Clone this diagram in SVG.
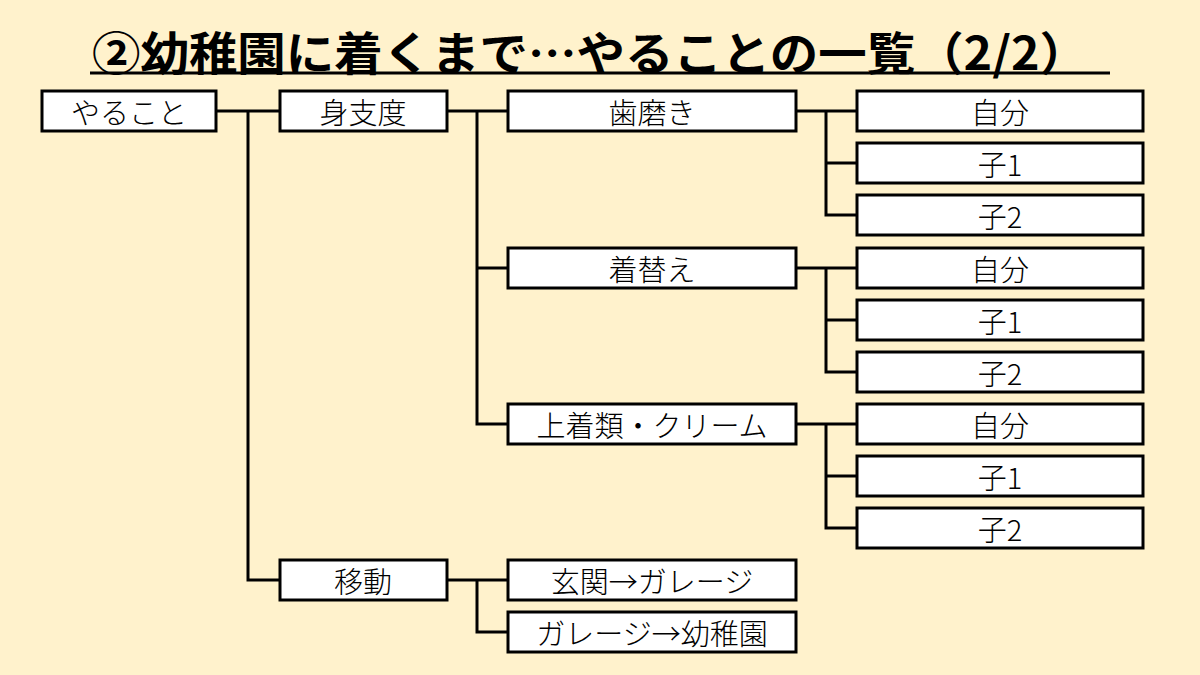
<svg xmlns="http://www.w3.org/2000/svg" width="1200" height="675" viewBox="0 0 1200 675">
<style>
.bg{fill:#fff2cc}
.box{fill:#ffffff;stroke:#000;stroke-width:3}
.lbl{font-family:"Noto Sans CJK JP","Noto Sans",sans-serif;font-size:29px;font-weight:300;fill:#000;text-anchor:middle;dominant-baseline:central}
.title{font-family:"Noto Sans CJK JP","Noto Sans",sans-serif;font-size:46px;font-weight:bold;fill:#000;text-anchor:middle}
.con{fill:none;stroke:#000;stroke-width:3}
</style>
<rect class="bg" x="0" y="0" width="1200" height="675"/>
<g id="title">
<text class="title" x="590" y="70" textLength="996" lengthAdjust="spacingAndGlyphs">②幼稚園に着くまで…やることの一覧（2/2）</text>
<line x1="90" y1="73" x2="1110" y2="73" stroke="#000" stroke-width="3"/>
</g>
<g id="connectors">
<path class="con" d="M216 111H280M248 111V580H280"/>
<path class="con" d="M447 111H508M477 111V424H508M477 268H508"/>
<path class="con" d="M447 580H508M477 580V632H508"/>
<path class="con" d="M796 111H857M826 111V215H857M826 163H857"/>
<path class="con" d="M796 268H857M826 268V372H857M826 320H857"/>
<path class="con" d="M796 424H857M826 424V528H857M826 476H857"/>
</g>
<g id="n-yarukoto"><rect class="box" x="42" y="91" width="174" height="40"/><text class="lbl" x="129" y="111">やること</text></g>
<g id="n-mijitaku"><rect class="box" x="280" y="91" width="167" height="40"/><text class="lbl" x="363" y="111">身支度</text></g>
<g id="n-hamigaki"><rect class="box" x="508" y="91" width="288" height="40"/><text class="lbl" x="652" y="111">歯磨き</text></g>
<g id="n-h-jibun"><rect class="box" x="857" y="91" width="286" height="40"/><text class="lbl" x="1000" y="111">自分</text></g>
<g id="n-h-ko1"><rect class="box" x="857" y="143" width="286" height="40"/><text class="lbl" x="1000" y="163">子1</text></g>
<g id="n-h-ko2"><rect class="box" x="857" y="195" width="286" height="40"/><text class="lbl" x="1000" y="215">子2</text></g>
<g id="n-kigae"><rect class="box" x="508" y="248" width="288" height="40"/><text class="lbl" x="652" y="268">着替え</text></g>
<g id="n-k-jibun"><rect class="box" x="857" y="248" width="286" height="40"/><text class="lbl" x="1000" y="268">自分</text></g>
<g id="n-k-ko1"><rect class="box" x="857" y="300" width="286" height="40"/><text class="lbl" x="1000" y="320">子1</text></g>
<g id="n-k-ko2"><rect class="box" x="857" y="352" width="286" height="40"/><text class="lbl" x="1000" y="372">子2</text></g>
<g id="n-uwagi"><rect class="box" x="508" y="404" width="288" height="40"/><text class="lbl" x="652" y="424">上着類・クリーム</text></g>
<g id="n-u-jibun"><rect class="box" x="857" y="404" width="286" height="40"/><text class="lbl" x="1000" y="424">自分</text></g>
<g id="n-u-ko1"><rect class="box" x="857" y="456" width="286" height="40"/><text class="lbl" x="1000" y="476">子1</text></g>
<g id="n-u-ko2"><rect class="box" x="857" y="508" width="286" height="40"/><text class="lbl" x="1000" y="528">子2</text></g>
<g id="n-idou"><rect class="box" x="280" y="560" width="167" height="40"/><text class="lbl" x="363" y="580">移動</text></g>
<g id="n-genkan"><rect class="box" x="508" y="560" width="288" height="40"/><text class="lbl" x="652" y="580">玄関→ガレージ</text></g>
<g id="n-garage"><rect class="box" x="508" y="612" width="288" height="40"/><text class="lbl" x="652" y="632">ガレージ→幼稚園</text></g>
</svg>
